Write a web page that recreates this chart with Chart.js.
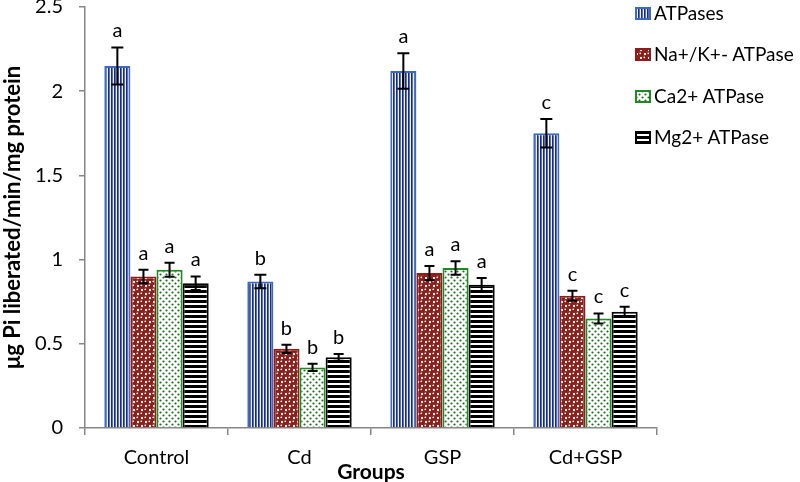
<!DOCTYPE html>
<html>
<head>
<meta charset="utf-8">
<script src="https://cdn.jsdelivr.net/npm/chart.js@4/dist/chart.umd.min.js"></script>
<style>
  html, body { margin: 0; padding: 0; background: #fff; }
  #wrap { position: relative; width: 800px; height: 482px; }
  #legend { position: absolute; left: 635px; top: 0; font-family: Lato, sans-serif; font-size: 19px; color: #000; }
  .row { position: absolute; left: 0; height: 20px; line-height: 20px; white-space: nowrap; display: flex; align-items: center; }
  .row canvas { margin-right: 3px; }
</style>
</head>
<body>
<div id="wrap">
  <canvas id="enzymeChart" width="800" height="482"></canvas>
  <div id="legend"></div>
</div>
<script>
const groups = ['Control', 'Cd', 'GSP', 'Cd+GSP'];
const seriesNames = ['ATPases', 'Na+/K+- ATPase', 'Ca2+ ATPase', 'Mg2+ ATPase'];
const atpases = [2.15, 0.87, 2.12, 1.75];
const atpasesErr = [0.11, 0.04, 0.105, 0.085];
const naK = [0.90, 0.47, 0.92, 0.785];
const naKErr = [0.04, 0.025, 0.042, 0.03];
const ca = [0.94, 0.36, 0.95, 0.65];
const caErr = [0.042, 0.022, 0.04, 0.03];
const mg = [0.86, 0.42, 0.85, 0.69];
const mgErr = [0.04, 0.02, 0.04, 0.03];
const letters = ['a', 'b', 'a', 'c'];

function makePattern(w, h, draw) {
    const c = document.createElement('canvas');
    c.width = w; c.height = h;
    const g = c.getContext('2d');
    draw(g, w, h);
    return g.createPattern(c, 'repeat');
}

// vertical navy lines
const blueLines = makePattern(3, 4, (g, w, h) => {
    g.fillStyle = '#eef2fc'; g.fillRect(0, 0, w, h);
    g.fillStyle = '#1c2a78'; g.fillRect(0, 0, 1, h);
    g.fillStyle = '#5570c0'; g.fillRect(1, 0, 1, h);
});
// dark red spheres
const redSpheres = makePattern(8, 8, (g, w, h) => {
    g.fillStyle = '#ffffff'; g.fillRect(0, 0, w, h);
    g.fillStyle = '#8c1d18';
    [[2, 2], [6, 6], [-2, 6], [6, -2], [10, 6], [6, 10], [2, 10], [10, 2], [-2, -2]].forEach(p => {
        g.beginPath(); g.arc(p[0], p[1], 3.1, 0, Math.PI * 2); g.fill();
    });
    g.fillStyle = '#ffffff';
    [[1.3, 1.3], [5.3, 5.3]].forEach(p => {
        g.beginPath(); g.arc(p[0], p[1], 0.9, 0, Math.PI * 2); g.fill();
    });
});
// green dots
const greenDots = makePattern(6, 6, (g, w, h) => {
    g.fillStyle = '#ffffff'; g.fillRect(0, 0, w, h);
    g.fillStyle = '#1a6b1a';
    [[1.5, 1.5], [4.5, 4.5]].forEach(p => {
        g.beginPath(); g.arc(p[0], p[1], 1.1, 0, Math.PI * 2); g.fill();
    });
});
// horizontal black stripes
const blackStripes = makePattern(4, 5, (g, w, h) => {
    g.fillStyle = '#ffffff'; g.fillRect(0, 0, w, h);
    g.fillStyle = '#000000'; g.fillRect(0, 0, w, 3);
});

const fills = [blueLines, redSpheres, greenDots, blackStripes];
const borders = ['#3d68c4', '#8c1d18', '#1f8a1f', '#000000'];
const values = [atpases, naK, ca, mg];
const errors = [atpasesErr, naKErr, caErr, mgErr];

const errorBars = {
    id: 'errorBars',
    afterDatasetsDraw(chart) {
        const ctx = chart.ctx;
        const y = chart.scales.y;
        ctx.save();
        ctx.strokeStyle = '#000';
        ctx.lineWidth = 2;
        ctx.fillStyle = '#000';
        ctx.font = '20px Lato, sans-serif';
        ctx.textAlign = 'center';
        ctx.textBaseline = 'alphabetic';
        chart.data.datasets.forEach((ds, i) => {
            chart.getDatasetMeta(i).data.forEach((bar, j) => {
                const v = ds.data[j];
                const e = errors[i][j];
                const top = y.getPixelForValue(v + e);
                const bot = y.getPixelForValue(v - e);
                const cap = i === 0 ? 6 : 5;
                ctx.beginPath();
                ctx.moveTo(bar.x, top); ctx.lineTo(bar.x, bot);
                ctx.moveTo(bar.x - cap, top); ctx.lineTo(bar.x + cap, top);
                ctx.moveTo(bar.x - cap, bot); ctx.lineTo(bar.x + cap, bot);
                ctx.stroke();
                ctx.fillText(letters[j], bar.x, top - 10);
            });
        });
        ctx.restore();
    }
};

const ctxEnzyme = document.getElementById('enzymeChart').getContext('2d');
const enzymeChart = new Chart(ctxEnzyme, {
    type: 'bar',
    data: {
        labels: groups,
        datasets: values.map((vals, i) => ({
            label: seriesNames[i],
            data: vals,
            backgroundColor: fills[i],
            borderColor: borders[i],
            borderWidth: 2,
            categoryPercentage: 0.73,
            barPercentage: 1.0
        }))
    },
    options: {
        responsive: false,
        animation: false,
        layout: { padding: { top: 7, right: 143, left: 0, bottom: 0 } },
        plugins: {
            legend: { display: false },
            tooltip: { enabled: false }
        },
        scales: {
            x: {
                grid: { drawOnChartArea: false, color: '#868686', tickLength: 7, lineWidth: 1.5 },
                border: { color: '#868686', width: 1.5 },
                ticks: { color: '#000', padding: 11, font: { family: 'Lato', size: 20 } },
                title: { display: true, text: 'Groups', color: '#000', padding: 0,
                         font: { family: 'Lato', size: 21, weight: 'bold', lineHeight: 0.9 } },
                afterFit(scale) { scale.height = 54; scale.paddingLeft = 0; scale.paddingRight = 0; }
            },
            y: {
                min: 0,
                max: 2.5,
                grid: { drawOnChartArea: false, color: '#868686', tickLength: 6, lineWidth: 1.5 },
                border: { color: '#868686', width: 1.5 },
                ticks: { stepSize: 0.5, color: '#000', padding: 16, font: { family: 'Lato', size: 20 },
                         callback: v => String(v) },
                title: { display: true, text: 'μg Pi liberated/min/mg protein', color: '#000',
                         padding: { top: 1, bottom: 0 },
                         font: { family: 'Lato', size: 22, weight: 'bold', lineHeight: 1.1 } },
                afterFit(scale) { scale.width = 85; scale.paddingTop = 0; scale.paddingBottom = 0; }
            }
        }
    },
    plugins: [errorBars]
});

// legend drawn as html text with pattern swatches
const legend = document.getElementById('legend');
const rowTops = [3, 44, 86, 127];
seriesNames.forEach((name, i) => {
    const row = document.createElement('div');
    row.className = 'row';
    row.style.top = rowTops[i] + 'px';
    const sw = document.createElement('canvas');
    sw.width = 16; sw.height = 13;
    const g = sw.getContext('2d');
    g.fillStyle = fills[i]; g.fillRect(0, 0, 16, 13);
    g.strokeStyle = borders[i]; g.lineWidth = 2; g.strokeRect(1, 1, 14, 11);
    row.appendChild(sw);
    const t = document.createElement('span');
    t.textContent = name;
    row.appendChild(t);
    legend.appendChild(row);
});
</script>
</body>
</html>
